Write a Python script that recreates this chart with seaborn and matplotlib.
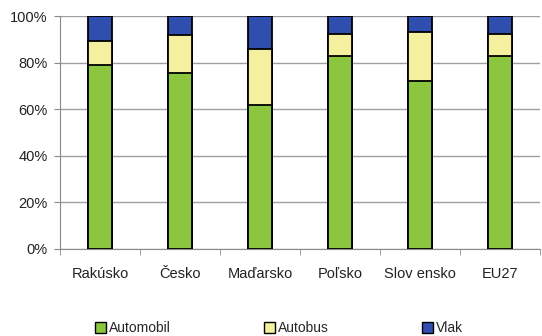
import numpy as np
import pandas as pd
import matplotlib
matplotlib.use("Agg")
import matplotlib.pyplot as plt
import seaborn as sns
from matplotlib.patches import Patch

# data (percent shares)
krajiny = ["Rakúsko", "Česko", "Maďarsko", "Poľsko", "Slov ensko", "EU27"]
automobil = [79.0, 75.5, 61.7, 82.8, 72.0, 82.8]
autobus = [10.3, 16.5, 24.3, 9.6, 21.1, 9.6]
vlak = [10.7, 8.0, 14.0, 7.6, 6.9, 7.6]

farby = {"Automobil": "#8cc63e", "Autobus": "#f5f0a0", "Vlak": "#2f4fae"}

df = pd.DataFrame({"krajina": krajiny, "Automobil": automobil,
                   "Autobus": autobus, "Vlak": vlak})
df["c_auto"] = df["Automobil"]
df["c_bus"] = df["Automobil"] + df["Autobus"]
df["c_vlak"] = df["c_bus"] + df["Vlak"]

sns.set_style("white")
plt.rcParams["font.family"] = ["Liberation Sans", "DejaVu Sans"]

fig = plt.figure(figsize=(5.42, 3.36), dpi=100)
ax = fig.add_axes([0.111, 0.259, 0.885, 0.693])

# stacked bars: draw the cumulative totals from the top down
for col, name in [("c_vlak", "Vlak"), ("c_bus", "Autobus"), ("c_auto", "Automobil")]:
    sns.barplot(data=df, x="krajina", y=col, color=farby[name], width=0.3,
                edgecolor="black", linewidth=1.3, saturation=1, ax=ax, zorder=3)

ax.set_ylim(0, 100)
ax.set_xlim(-0.5, 5.5)
ax.set_yticks(np.arange(0, 101, 20))
ax.set_yticklabels([f"{v}%" for v in range(0, 101, 20)])
ax.yaxis.grid(True, color="#a0a0a0", linewidth=1, zorder=0)
ax.set_xlabel("")
ax.set_ylabel("")
for s in ["top", "right"]:
    ax.spines[s].set_visible(False)
for s in ["left", "bottom"]:
    ax.spines[s].set_color("#8a8a8a")
ax.set_xticks(np.arange(6))
ax.set_xticks(np.arange(-0.5, 6, 1), minor=True)
ax.tick_params(axis="x", which="major", length=0, pad=13, labelsize=10.5, colors="#222222")
ax.tick_params(axis="x", which="minor", length=4, color="#8a8a8a", bottom=True)
ax.tick_params(axis="y", length=4, color="#8a8a8a", left=True, labelsize=10.5,
               colors="#222222", pad=5)

handles = [Patch(facecolor=farby[n], edgecolor="black", label=n)
           for n in ["Automobil", "Autobus", "Vlak"]]
fig.legend(handles=handles, loc="lower center", ncol=3, frameon=False,
           bbox_to_anchor=(0.515, -0.035), fontsize=10, handlelength=0.8,
           handleheight=0.8, handletextpad=0.2, columnspacing=6.7)

fig.savefig("out.png", dpi=100)
